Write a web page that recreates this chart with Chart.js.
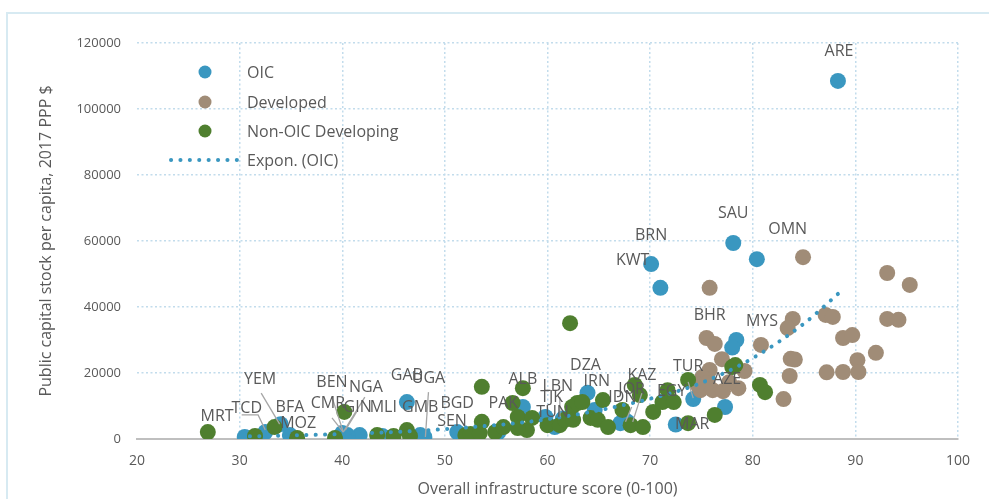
<!DOCTYPE html>
<html>
<head>
<meta charset="utf-8">
<script src="https://cdn.jsdelivr.net/npm/chart.js@4"></script>
<style>
  body { margin: 0; background: #fff; overflow: hidden; }
  #wrap { position: relative; width: 989px; height: 499px; }
  #frame { position: absolute; left: 6px; top: 12px; width: 1000px; height: 600px; border: 2px solid #d7eaf2; box-sizing: border-box; }
  canvas { position: absolute; left: 0; top: 0; }
</style>
</head>
<body>
<div id="wrap">
  <div id="frame"></div>
  <canvas id="scatterChart" width="989" height="499"></canvas>
</div>
<script>
// [infrastructure score, public capital stock per capita]
const oicPoints = [
  [88.3,108500],[78.1,59400],[80.4,54500],[70.1,53000],[71.0,45800],[78.4,30000],[78.0,27700],
  [74.2,12100],[77.3,9700],[72.5,4400],[63.9,14000],[64.6,8800],[67.8,5200],[67.1,4800],[59.8,6700],
  [60.7,3600],[57.6,9700],[61.5,6200],[55.2,2000],[51.2,2100],[48.0,600],[47.6,1200],[46.3,11200],
  [43.9,900],[41.7,1200],[40.5,1200],[40.0,1800],[34.9,1200],[34.0,4500],[32.5,2100],[30.5,600]
];
const developedPoints = [
  [84.9,55100],[75.8,45800],[93.1,50300],[95.3,46700],[87.1,37600],[87.8,37000],[93.1,36400],
  [94.2,36100],[83.9,36400],[83.4,33600],[75.5,30600],[76.3,28800],[80.8,28500],[88.8,30600],
  [89.7,31500],[92.0,26100],[77.0,24200],[75.8,20900],[83.7,24300],[84.1,24100],[90.2,23900],
  [87.2,20200],[88.8,20300],[90.3,20300],[83.6,19100],[79.2,20600],[75.1,18800],[74.9,14800],
  [76.1,14800],[77.1,14500],[78.6,15400],[83.0,12100],[75.6,17000],[77.7,17200],[74.6,16500]
];
const nonOicPoints = [
  [26.9,2100],[31.5,900],[33.4,3600],[35.6,300],[39.3,300],[40.2,8200],[43.4,1200],[45.0,900],
  [46.3,2700],[46.6,900],[52.0,1200],[52.5,1500],[53.6,15800],[53.6,5200],[53.4,1800],[54.9,2100],
  [55.7,3600],[56.6,10900],[57.6,15400],[57.1,6700],[58.0,2700],[57.1,3300],[58.5,6400],[60.0,4200],
  [61.2,4200],[61.7,5800],[62.2,35100],[62.4,9700],[62.9,10900],[63.4,11200],[65.4,11800],[62.5,5800],
  [64.2,6400],[64.9,5800],[65.9,3600],[67.3,8800],[68.1,4200],[69.3,3600],[68.5,16400],[69.0,13300],
  [70.3,8200],[71.7,14800],[71.2,11200],[72.3,11200],[73.7,17900],[73.7,4800],[76.3,7300],
  [78.0,21800],[78.3,22400],[80.7,16400],[81.2,14200]
];
// exponential trend (OIC)
const trendPoints = [[31,800],[40,1500],[50,3000],[60,6000],[70,12200],[75,17000],[80,24500],[85,35000],[88.5,44500]];

// country label text with its position in data units
const countryLabels = [
  ['ARE',88.4,117300],['SAU',78.1,68500],['OMN',83.4,63600],['BRN',70.1,61800],['KWT',68.3,54200],
  ['BHR',75.8,37300],['MYS',80.9,35500],['TUR',73.7,22100],['AZE',77.5,18200],['EGY',72.1,14500],
  ['MAR',74.1,4500],['KAZ',69.2,19400],['JOR',68.2,15100],['IDN',67.3,12700],['DZA',63.7,22400],
  ['IRN',64.8,17300],['LBN',61.0,15800],['TJK',60.4,12700],['TUN',60.5,8200],['ALB',57.6,17900],
  ['PAK',55.7,10900],['BGD',51.2,10900],['SEN',50.7,5200],['GAB',46.3,19400],['UGA',48.4,18500],
  ['GMB',47.6,9700],['MLI',44.0,9700],['CMR',38.6,10900],['GIN',41.5,9700],['BEN',39.0,17000],
  ['NGA',42.3,15500],['MOZ',35.7,4800],['BFA',34.9,9700],['YEM',32.0,18200],['TCD',30.7,9400],
  ['MRT',27.8,6700]
];
const leaderLines = [
  [[32.1,13900],[33.9,4500]],
  [[30.2,7300],[31.8,7300],[32.5,2700]],
  [[39.0,12700],[40.1,2100]],
  [[39.0,6400],[40.1,2100]],
  [[42.2,12700],[40.1,2100]],
  [[41.4,8200],[40.3,2700]],
  [[48.4,14200],[48.1,600]],
  [[61.2,12700],[61.2,6700]],
  [[68.2,9700],[67.6,5200]],
  [[69.2,13900],[68.3,5200]],
  [[73.7,17300],[74.2,12400]]
];

const toXY = arr => arr.map(([x, y]) => ({ x, y }));
const textColor = '#595959';
const gridColor = '#c2dcec';
const fontFamily = '"Open Sans", sans-serif';

const labelPlugin = {
  id: 'countryLabels',
  afterDatasetsDraw(chart) {
    const { ctx, scales: { x, y } } = chart;
    ctx.save();
    ctx.strokeStyle = '#a6a6a6';
    ctx.lineWidth = 1.3;
    leaderLines.forEach(line => {
      ctx.beginPath();
      line.forEach(([lx, ly], i) => {
        const px = x.getPixelForValue(lx), py = y.getPixelForValue(ly);
        if (i === 0) ctx.moveTo(px, py); else ctx.lineTo(px, py);
      });
      ctx.stroke();
    });
    ctx.fillStyle = textColor;
    ctx.font = '16px ' + fontFamily;
    ctx.textAlign = 'center';
    ctx.textBaseline = 'middle';
    countryLabels.forEach(([code, lx, ly]) => {
      ctx.fillText(code, x.getPixelForValue(lx), y.getPixelForValue(ly));
    });
    ctx.restore();
  }
};

const legendPlugin = {
  id: 'insideLegend',
  afterDraw(chart) {
    const { ctx } = chart;
    const rows = [72, 102, 131, 160];
    ctx.save();
    ctx.font = '16px ' + fontFamily;
    ctx.textBaseline = 'middle';
    chart.data.datasets.forEach((ds, i) => {
      const yy = rows[i];
      if (ds.type === 'line') {
        ctx.strokeStyle = ds.borderColor;
        ctx.lineWidth = 4;
        ctx.lineCap = 'round';
        ctx.setLineDash([0.1, 9.3]);
        ctx.beginPath();
        ctx.moveTo(171, yy);
        ctx.lineTo(240, yy);
        ctx.stroke();
        ctx.setLineDash([]);
      } else {
        ctx.fillStyle = ds.backgroundColor;
        ctx.beginPath();
        ctx.arc(205, yy, 6.5, 0, Math.PI * 2);
        ctx.fill();
      }
      ctx.fillStyle = textColor;
      ctx.fillText(ds.label, 247, yy + 1);
    });
    ctx.restore();
  }
};

document.addEventListener('DOMContentLoaded', () => {
  const ctx = document.getElementById('scatterChart').getContext('2d');
  new Chart(ctx, {
    type: 'scatter',
    data: {
      datasets: [
        { label: 'OIC', data: toXY(oicPoints), backgroundColor: '#3a97c0', pointRadius: 8, borderWidth: 0, order: 3 },
        { label: 'Developed', data: toXY(developedPoints), backgroundColor: '#a08c77', pointRadius: 8, borderWidth: 0, order: 2 },
        { label: 'Non-OIC Developing', data: toXY(nonOicPoints), backgroundColor: '#4f7f2f', pointRadius: 8, borderWidth: 0, order: 1 },
        {
          type: 'line', label: 'Expon. (OIC)', data: toXY(trendPoints),
          borderColor: '#3a97c0', borderWidth: 4, borderDash: [0.1, 9.3], borderCapStyle: 'round',
          pointRadius: 0, cubicInterpolationMode: 'monotone', fill: false, order: 0
        }
      ]
    },
    options: {
      responsive: false,
      animation: false,
      layout: { padding: { top: 43, right: 31, left: 0, bottom: 0 } },
      plugins: { legend: { display: false }, tooltip: { enabled: false } },
      scales: {
        x: {
          type: 'linear', min: 20, max: 100,
          afterFit: s => { s.height = 60; },
          ticks: { stepSize: 10, padding: 14, color: textColor, font: { family: fontFamily, size: 14 } },
          grid: { color: c => c.tick && c.tick.value === 20 ? 'rgba(0,0,0,0)' : gridColor, lineWidth: 1.5, drawTicks: false },
          border: { display: true, color: '#bfbfbf', width: 2, dash: [2, 2.5] },
          title: { display: true, text: 'Overall infrastructure score (0-100)', color: textColor, font: { family: fontFamily, size: 16 }, padding: { top: 0, bottom: 0 } }
        },
        y: {
          min: 0, max: 120000,
          afterFit: s => { s.width = 137; },
          ticks: { stepSize: 20000, padding: 16, color: textColor, font: { family: fontFamily, size: 13 }, callback: v => String(v) },
          grid: { color: c => c.tick && c.tick.value === 0 ? 'rgba(0,0,0,0)' : gridColor, lineWidth: 1.5, drawTicks: false },
          border: { display: false, dash: [2, 2.5] },
          title: { display: true, text: 'Public capital stock per capita, 2017 PPP $', color: textColor, font: { family: fontFamily, size: 16 }, padding: { top: 37, bottom: 0 } }
        }
      }
    },
    plugins: [labelPlugin, legendPlugin]
  });
});
</script>
</body>
</html>
